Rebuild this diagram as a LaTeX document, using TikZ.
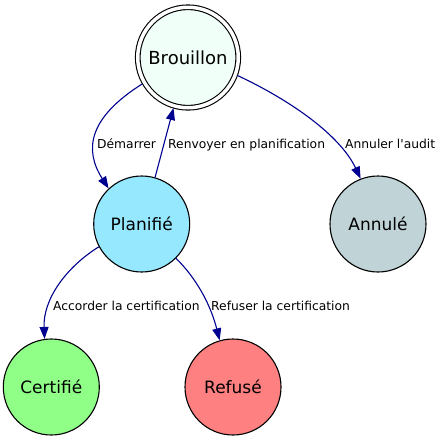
\documentclass[tikz,border=0pt]{standalone}
\usepackage{fontspec}
\setmainfont{DejaVu Sans}[Ligatures=TeXOff]
\usetikzlibrary{arrows.meta}
\definecolor{brouillonfill}{HTML}{F0FFF8}
\definecolor{planifiefill}{HTML}{96E8FF}
\definecolor{annulefill}{HTML}{C0D4D8}
\definecolor{certifiefill}{HTML}{90FF88}
\definecolor{refusefill}{HTML}{FF8080}
\definecolor{edgeblue}{HTML}{000090}
\begin{document}
\begin{tikzpicture}[
		x=1pt, y=-1pt,
		etat/.style={circle,draw,line width=1.1pt,minimum size=96pt,inner sep=0pt,
			font=\fontsize{17}{20}\selectfont},
		transition/.style={draw=edgeblue,line width=1.1pt,
			-{Triangle[length=12pt,width=9pt,fill=edgeblue]}},
		elabel/.style={anchor=base west,inner sep=0pt,font=\fontsize{12.3}{14}\selectfont}
	]
	\useasboundingbox (0,0) rectangle (442,445);
	% etats
	\node[etat,fill=brouillonfill,double,double distance=3.5pt,minimum size=100.5pt,
		outer sep=2.3pt,font=\fontsize{18}{21}\selectfont] (brouillon) at (188,57.5) {Brouillon};
	\node[etat,fill=planifiefill] (planifie) at (141.7,224) {Planifié};
	\node[etat,fill=annulefill] (annule) at (378,224) {Annulé};
	\node[etat,fill=certifiefill] (certifie) at (51.3,387) {Certifié};
	\node[etat,fill=refusefill] (refuse) at (233,387) {Refusé};
	% transitions
	\draw[transition] (brouillon.210) .. controls (88,118) and (84,150) .. (planifie.133);
	\draw[transition] (planifie.74) -- (brouillon.254);
	\draw[transition] (brouillon.340) .. controls (290,100) and (340,135) .. (annule.111);
	\draw[transition] (planifie.208) .. controls (65,268) and (43,300) .. (certifie.98);
	\draw[transition] (planifie.315) .. controls (200,282) and (212,310) .. (refuse.106);
	% libelles
	\node[elabel] (ldemarrer) at (97,148) {Démarrer};
	\node[elabel] (lrenvoyer) at (168,148) {Renvoyer en planification};
	\node[elabel] (lannuler) at (345,148) {Annuler l'audit};
	\node[elabel] (laccorder) at (53,310) {Accorder la certification};
	\node[elabel] (lrefuser) at (211,310) {Refuser la certification};
\end{tikzpicture}
\end{document}
